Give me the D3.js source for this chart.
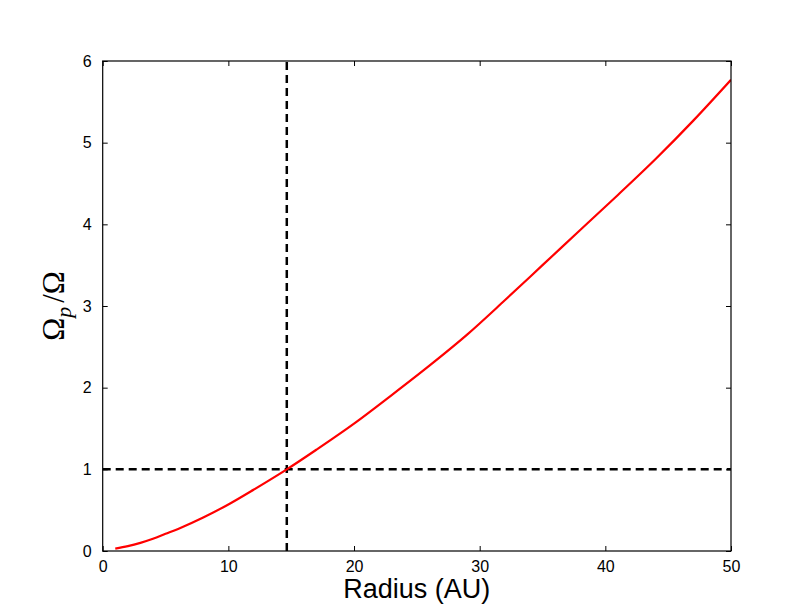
<!DOCTYPE html>
<html>
<head>
<meta charset="utf-8">
<script src="https://cdn.jsdelivr.net/npm/d3@7"></script>
<style>
  html, body { margin: 0; padding: 0; background: #fff; }
  svg { display: block; }
</style>
</head>
<body>
<div id="chart"></div>
<script>
// Data
const radius = [1, 2, 3, 4, 5, 6, 8, 10, 12, 14.65, 17, 20, 23, 26, 29, 32, 35, 38, 41, 44, 47, 50];
const omegaRatio = [0.03, 0.06, 0.10, 0.15, 0.21, 0.27, 0.41, 0.57, 0.75, 1.0, 1.24, 1.56, 1.91, 2.27, 2.65, 3.07, 3.50, 3.93, 4.36, 4.80, 5.27, 5.77];
const xTicks = [0, 10, 20, 30, 40, 50];
const yTicks = [0, 1, 2, 3, 4, 5, 6];
const refRadius = 14.65;
const refRatio = 1;

const W = 812, H = 612;
const margin = { left: 102.7, right: 81, top: 61, bottom: 61 };

const svg = d3.select("#chart").append("svg").attr("width", W).attr("height", H);

const x = d3.scaleLinear().domain([0, 50]).range([margin.left, W - margin.right]);
const y = d3.scaleLinear().domain([0, 6]).range([H - margin.bottom, margin.top]);

const fontSans = "'Liberation Sans', Arial, sans-serif";

const pts = radius.map((r, i) => [r, omegaRatio[i]]);
const line = d3.line().x(d => x(d[0])).y(d => y(d[1])).curve(d3.curveCatmullRom.alpha(0.5));

svg.append("clipPath").attr("id", "clip").append("rect")
  .attr("x", x(0)).attr("y", y(6)).attr("width", x(50) - x(0)).attr("height", y(0) - y(6));

const g = svg.append("g").attr("clip-path", "url(#clip)");

// dashed reference lines
g.append("line")
  .attr("x1", x(refRadius)).attr("x2", x(refRadius))
  .attr("y1", y(0)).attr("y2", y(6))
  .attr("stroke", "#000").attr("stroke-width", 2.5).attr("stroke-dasharray", "8,5");
g.append("line")
  .attr("x1", x(0)).attr("x2", x(50))
  .attr("y1", y(refRatio)).attr("y2", y(refRatio))
  .attr("stroke", "#000").attr("stroke-width", 2.5).attr("stroke-dasharray", "8,5");

g.append("path").datum(pts)
  .attr("d", line)
  .attr("fill", "none").attr("stroke", "#ff0000").attr("stroke-width", 2.2);

// axes (ticks inward, labels outside)
const tickLen = 5;
const fmt = d3.format("d");
const xAxisB = d3.axisBottom(x).tickValues(xTicks).tickFormat(fmt).tickSizeInner(-tickLen).tickSizeOuter(0).tickPadding(tickLen + 5);
const xAxisT = d3.axisTop(x).tickValues(xTicks).tickSizeInner(-tickLen).tickSizeOuter(0).tickFormat("");
const yAxisL = d3.axisLeft(y).tickValues(yTicks).tickFormat(fmt).tickSizeInner(-tickLen).tickSizeOuter(0).tickPadding(tickLen + 6);
const yAxisR = d3.axisRight(y).tickValues(yTicks).tickSizeInner(-tickLen).tickSizeOuter(0).tickFormat("");

function style(sel) {
  sel.select(".domain").remove();
  sel.selectAll(".tick line").attr("stroke", "#000").attr("stroke-width", 1);
  sel.selectAll(".tick text").attr("fill", "#000").style("font-family", fontSans).style("font-size", "16px");
}

svg.append("g").attr("transform", `translate(0,${y(0)})`).call(xAxisB).call(style);
svg.append("g").attr("transform", `translate(0,${y(6)})`).call(xAxisT).call(style);
svg.append("g").attr("transform", `translate(${x(0)},0)`).call(yAxisL).call(style);
svg.append("g").attr("transform", `translate(${x(50)},0)`).call(yAxisR).call(style);

// frame
svg.append("rect")
  .attr("x", x(0)).attr("y", y(6)).attr("width", x(50) - x(0)).attr("height", y(0) - y(6))
  .attr("fill", "none").attr("stroke", "#000").attr("stroke-width", 1.2);

// axis labels
svg.append("text")
  .attr("x", (x(0) + x(50)) / 2).attr("y", 598)
  .attr("text-anchor", "middle")
  .style("font-family", fontSans).style("font-size", "27px")
  .attr("fill", "#000")
  .text("Radius (AU)");

const yl = svg.append("text")
  .attr("transform", `translate(64,${(y(0) + y(6)) / 2}) rotate(-90)`)
  .attr("text-anchor", "middle")
  .style("font-family", "'Liberation Serif', 'DejaVu Serif', serif").style("font-size", "31px")
  .attr("fill", "#000");
yl.append("tspan").text("Ω");
yl.append("tspan").attr("dy", 7).style("font-style", "italic").style("font-size", "22px").text("p");
yl.append("tspan").attr("dy", -7).attr("dx", 4).text("/Ω");
</script>
</body>
</html>
